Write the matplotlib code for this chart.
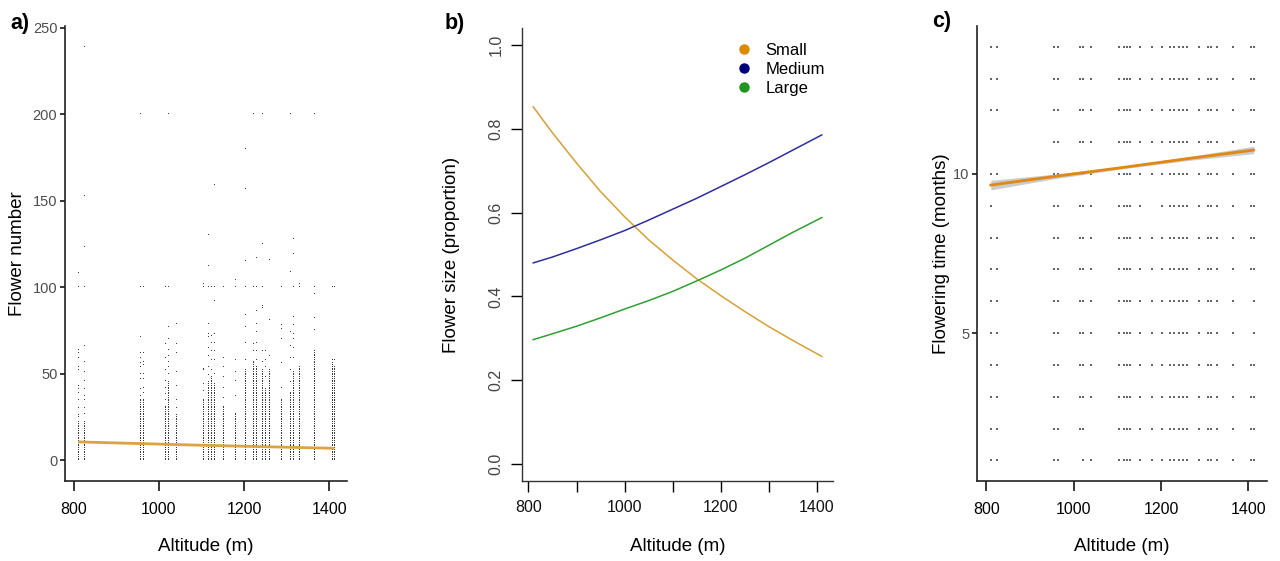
import numpy as np
import matplotlib
matplotlib.use("Agg")
import matplotlib.pyplot as plt
from matplotlib.lines import Line2D

plt.rcParams['font.family'] = ['Liberation Sans', 'DejaVu Sans']

# ---------------- data ----------------
# sampling sites (altitude, m)
sites = [810, 823, 955, 963, 1015, 1022, 1040, 1104, 1116, 1123, 1129, 1151, 1179,
         1202, 1221, 1229, 1241, 1250, 1259, 1286, 1307, 1314, 1329, 1365, 1406, 1412]

# panel a: flower number per plant; every integer 0..dense_top is present at a site,
# plus the scattered higher values listed per site
dense_top = [22, 22, 35, 35, 31, 45, 26, 35, 45, 48, 44, 31, 27,
             52, 57, 54, 52, 41, 52, 35, 39, 51, 54, 63, 56, 54]
sparse_vals = [
    [25, 26, 30, 35, 39, 41, 43, 52, 54, 59, 62, 64, 100, 108],
    [27, 30, 35, 37, 41, 46, 51, 57, 66, 100, 123, 153, 239],
    [37, 41, 47, 50, 54, 56, 59, 62, 71, 100, 200],
    [39, 42, 47, 50, 55, 57, 62, 100],
    [35, 38, 42, 46, 52, 59, 67, 100],
    [50, 54, 57, 60, 64, 70, 77, 100, 200],
    [30, 35, 43, 51, 62, 67, 79],
    [40, 44, 52, 53, 100, 102],
    [49, 54, 60, 65, 71, 73, 79, 100, 112, 130],
    [52, 58, 63, 68, 72, 100],
    [50, 58, 63, 68, 73, 92, 100, 159],
    [36, 42, 48, 54, 59, 100],
    [37, 46, 51, 58, 100, 104],
    [58, 68, 77, 84, 100, 115, 157, 180],
    [63, 67, 100, 200],
    [58, 63, 68, 74, 79, 86, 100, 117],
    [57, 63, 88, 89, 100, 125, 200],
    [48, 54, 58, 63],
    [60, 81, 116],
    [42, 56, 70, 76, 78, 100],
    [45, 52, 59, 66, 74, 109, 200],
    [59, 65, 70, 73, 78, 83, 100, 119, 128],
    [100, 102],
    [75, 82, 96, 100, 200],
    [58, 100],
    [58, 100],
]
fit_a_alt = [810, 1110, 1412]
fit_a_val = [10.6, 8.6, 6.9]

# panel b: predicted proportion per flower size class
alt_b = [810, 850, 900, 950, 1000, 1050, 1100, 1150, 1200, 1250, 1300, 1350, 1410]
small = [0.852, 0.790, 0.718, 0.650, 0.590, 0.535, 0.487, 0.442, 0.402, 0.364, 0.328, 0.295, 0.257]
medium = [0.480, 0.494, 0.514, 0.535, 0.557, 0.582, 0.608, 0.634, 0.662, 0.690, 0.719, 0.749, 0.785]
large = [0.297, 0.311, 0.329, 0.349, 0.370, 0.390, 0.412, 0.437, 0.463, 0.491, 0.522, 0.553, 0.588]
size_labels = ['Small', 'Medium', 'Large']

# panel c: flowering months observed at each site
months = list(range(1, 15))
missing_c = {11: [810, 823], 9: [823, 1179], 6: [1406], 5: [1406], 2: [1040], 1: [1015]}
fit_c_alt = [810, 960, 1110, 1260, 1412]
fit_c_val = [9.65, 9.93, 10.20, 10.48, 10.75]
fit_c_lo = [9.50, 9.86, 10.16, 10.42, 10.64]
fit_c_hi = [9.80, 10.00, 10.24, 10.54, 10.87]

# ---------------- figure ----------------
W, H = 1280, 561
fig = plt.figure(figsize=(W / 100, H / 100), dpi=100)


def px_axes(left, top, right, bottom):
    return fig.add_axes([left / W, 1 - bottom / H, (right - left) / W, (bottom - top) / H])


grey_tick = '#4D4D4D'
tick_fs = 11.5
ytick_fs = 10.5
title_fs = 13.5

# ---- panel a ----
axa = px_axes(65, 26, 347, 481)
xa, ya = [], []
for s, top, extra in zip(sites, dense_top, sparse_vals):
    vals = list(range(0, top + 1)) + extra
    xa += [s] * len(vals)
    ya += vals
axa.plot(xa, ya, ls='none', marker=',', color='#3a3a3a')
axa.plot(fit_a_alt, fit_a_val, color='#D9A441', lw=2.0, solid_capstyle='butt')
axa.set_xlim(779, 1442)
axa.set_ylim(-12, 251)
axa.set_xticks([800, 1000, 1200, 1400])
axa.set_yticks([0, 50, 100, 150, 200, 250])
for sp in ['top', 'right']:
    axa.spines[sp].set_visible(False)
for sp in ['left', 'bottom']:
    axa.spines[sp].set_linewidth(1.2)
    axa.spines[sp].set_color('#222222')
axa.tick_params(axis='x', length=7, width=1.1, labelsize=tick_fs, labelcolor='black', pad=8)
axa.tick_params(axis='y', length=3.5, width=1.1, labelsize=ytick_fs, labelcolor=grey_tick, pad=2)
axa.set_xlabel('Altitude (m)', fontsize=title_fs)
axa.set_ylabel('Flower number', fontsize=title_fs)
axa.xaxis.set_label_coords(0.5, -0.125)
axa.yaxis.set_label_coords(-0.138, 0.5)

# ---- panel b ----
axb = px_axes(521.7, 28, 833.3, 481)
cols_line = ['#D9A032', '#2E2EA0', '#2FA02F']
cols_dot = ['#D98A00', '#00007A', '#1C961C']
for vals, c in zip([small, medium, large], cols_line):
    axb.plot(alt_b, vals, color=c, lw=1.1)
axb.set_xlim(786, 1434)
axb.set_ylim(-0.04, 1.04)
axb.set_xticks([800, 900, 1000, 1100, 1200, 1300, 1400])
axb.set_xticklabels(['800', '', '1000', '', '1200', '', '1400'])
axb.set_yticks([0.0, 0.2, 0.4, 0.6, 0.8, 1.0])
axb.set_yticklabels(['0.0', '0.2', '0.4', '0.6', '0.8', '1.0'], rotation=90, va='center')
for sp in ['top', 'right']:
    axb.spines[sp].set_visible(False)
for sp in ['left', 'bottom']:
    axb.spines[sp].set_linewidth(1.0)
    axb.spines[sp].set_color('#333333')
axb.tick_params(axis='x', length=8, width=1.0, labelsize=tick_fs, labelcolor='#111111', pad=6)
axb.tick_params(axis='y', length=8, width=1.0, labelsize=tick_fs, labelcolor='#444444', pad=5)
axb.set_xlabel('Altitude (m)', fontsize=title_fs)
axb.set_ylabel('Flower size (proportion)', fontsize=title_fs)
axb.xaxis.set_label_coords(0.5, -0.125)
axb.yaxis.set_label_coords(-0.198, 0.5)
handles = [Line2D([0], [0], marker='o', ls='none', color=c, markersize=6.5) for c in cols_dot]
axb.legend(handles, size_labels, loc='upper right', bbox_to_anchor=(1.005, 0.99), frameon=False,
           fontsize=12, handletextpad=0.3, labelspacing=0.25, borderaxespad=0.2)

# ---- panel c ----
axc = px_axes(977.3, 26, 1266.7, 481)
xc, yc = [], []
for m in months:
    miss = missing_c.get(m, [])
    for s in sites:
        if s not in miss:
            xc.append(s)
            yc.append(m)
axc.scatter(xc, yc, s=0.8, c='#666666', marker='s', linewidths=0)
axc.fill_between(fit_c_alt, fit_c_lo, fit_c_hi, color='#BEBEBE', alpha=0.8, lw=0)
axc.plot(fit_c_alt, fit_c_val, color='#E0880F', lw=2.0)
axc.set_xlim(779, 1442)
axc.set_ylim(0.35, 14.65)
axc.set_xticks([800, 1000, 1200, 1400])
axc.set_yticks([5, 10])
for sp in ['top', 'right']:
    axc.spines[sp].set_visible(False)
for sp in ['left', 'bottom']:
    axc.spines[sp].set_linewidth(1.2)
    axc.spines[sp].set_color('#222222')
axc.tick_params(axis='x', length=7, width=1.1, labelsize=tick_fs, labelcolor='black', pad=8)
axc.tick_params(axis='y', length=3.5, width=1.1, labelsize=ytick_fs, labelcolor=grey_tick, pad=2)
axc.set_xlabel('Altitude (m)', fontsize=title_fs)
axc.set_ylabel('Flowering time (months)', fontsize=title_fs)
axc.xaxis.set_label_coords(0.5, -0.125)
axc.yaxis.set_label_coords(-0.094, 0.5)

# panel tags
fig.text(20 / W, 1 - 23 / H, 'a)', fontsize=15.5, fontweight='bold', ha='center', va='center')
fig.text(455 / W, 1 - 23 / H, 'b)', fontsize=15.5, fontweight='bold', ha='center', va='center')
fig.text(942 / W, 1 - 22 / H, 'c)', fontsize=15.5, fontweight='bold', ha='center', va='center')

fig.savefig('out.png', dpi=100)
